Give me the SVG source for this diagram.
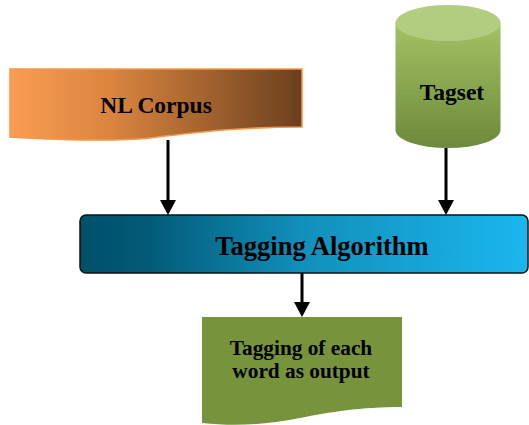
<svg xmlns="http://www.w3.org/2000/svg" width="529" height="425" viewBox="0 0 529 425">
<style>
  .lbl{font-family:"Liberation Serif","Times New Roman",serif;font-weight:bold;fill:#000;text-anchor:middle}
  .conn{stroke:#000;stroke-width:3;fill:none}
  .head{fill:#000}
</style>
<defs>
  <linearGradient id="gCorpus" x1="0" y1="0" x2="1" y2="0">
    <stop offset="0" stop-color="#f99d52"/>
    <stop offset="0.35" stop-color="#d9843f"/>
    <stop offset="1" stop-color="#6b401e"/>
  </linearGradient>
  <linearGradient id="gAlgo" x1="0" y1="0" x2="1" y2="0">
    <stop offset="0" stop-color="#005068"/>
    <stop offset="0.15" stop-color="#035a78"/>
    <stop offset="0.5" stop-color="#1290bb"/>
    <stop offset="1" stop-color="#1bb6ee"/>
  </linearGradient>
  <linearGradient id="gCyl" x1="0" y1="0" x2="0" y2="1">
    <stop offset="0" stop-color="#a3c264"/>
    <stop offset="1" stop-color="#6c8a3a"/>
  </linearGradient>
</defs>

<g id="connectors">
  <line class="conn" x1="168" y1="140" x2="168" y2="203"/>
  <path class="head" d="M160,200 L176,200 L168,215 Z"/>
  <line class="conn" x1="446" y1="148" x2="446" y2="203"/>
  <path class="head" d="M438,200 L454,200 L446,215 Z"/>
  <line class="conn" x1="302" y1="273" x2="302" y2="305"/>
  <path class="head" d="M294,302 L310,302 L302,317 Z"/>
</g>

<g id="nl-corpus">
  <path d="M10,69 L302,69 L302,127 C240,127 200,132 150,138 C110,142 60,140 10,137 Z" fill="url(#gCorpus)" stroke="#f79646" stroke-width="1.5"/>
  <text class="lbl" x="156" y="113" font-size="23.5">NL Corpus</text>
</g>

<g id="tagset">
  <path d="M395.5,23 L395.5,130 A52.5,18 0 0 0 500.5,130 L500.5,23 Z" fill="url(#gCyl)"/>
  <ellipse cx="448" cy="23" rx="52.5" ry="18" fill="#b2cd80"/>
  <text class="lbl" x="452" y="100" font-size="23.5">Tagset</text>
</g>

<g id="tagging-algorithm">
  <rect x="80" y="215" width="448" height="58" rx="6" ry="6" fill="url(#gAlgo)" stroke="#111" stroke-width="1.5"/>
  <text class="lbl" x="322" y="255" font-size="26.5">Tagging Algorithm</text>
</g>

<g id="output">
  <path d="M202,317 L402,317 L402,407 C360,407 330,412 300,418 C260,426 230,426 202,423 Z" fill="#77933c"/>
  <text class="lbl" x="301" y="355" font-size="21.3">Tagging of each</text>
  <text class="lbl" x="301" y="378" font-size="21.3">word as output</text>
</g>
</svg>
